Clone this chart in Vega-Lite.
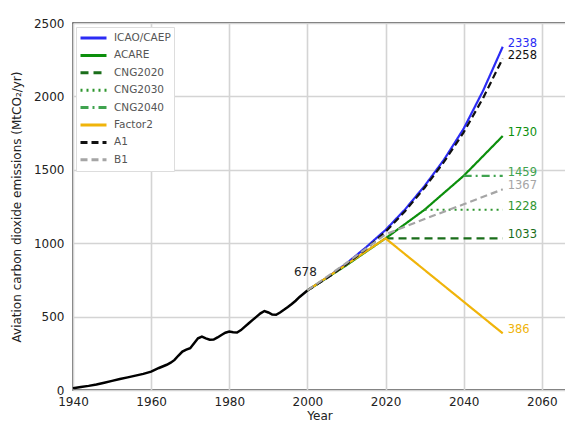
{
  "$schema": "https://vega.github.io/schema/vega-lite/v6.json",
  "autosize": {"type": "none"},
  "padding": {"left": 73, "top": 23, "right": 0, "bottom": 33},
  "width": 493,
  "height": 367,
  "background": "white",
  "config": {
    "font": "DejaVu Sans",
    "view": {"stroke": "#3a3a3a", "strokeWidth": 1.5},
    "axis": {
      "domain": false,
      "ticks": false,
      "labelFlush": false,
      "gridColor": "#d4d4d4",
      "gridWidth": 1.6,
      "labelFontSize": 12,
      "labelColor": "#222",
      "titleFontSize": 12,
      "titleFontWeight": "normal",
      "titleColor": "#222"
    }
  },
  "datasets": {
    "hist": [
      {"year": 1940, "value": 12}, {"year": 1942, "value": 20}, {"year": 1944, "value": 28},
      {"year": 1946, "value": 38}, {"year": 1948, "value": 50}, {"year": 1950, "value": 62},
      {"year": 1952, "value": 75}, {"year": 1954, "value": 86}, {"year": 1956, "value": 98},
      {"year": 1958, "value": 110}, {"year": 1960, "value": 125}, {"year": 1962, "value": 150},
      {"year": 1964, "value": 172}, {"year": 1965, "value": 186}, {"year": 1966, "value": 205},
      {"year": 1967, "value": 235}, {"year": 1968, "value": 262}, {"year": 1969, "value": 275},
      {"year": 1970, "value": 285}, {"year": 1971, "value": 318}, {"year": 1972, "value": 352},
      {"year": 1973, "value": 364}, {"year": 1974, "value": 352}, {"year": 1975, "value": 342},
      {"year": 1976, "value": 344}, {"year": 1977, "value": 358}, {"year": 1978, "value": 375},
      {"year": 1979, "value": 390}, {"year": 1980, "value": 398}, {"year": 1981, "value": 394},
      {"year": 1982, "value": 392}, {"year": 1983, "value": 408}, {"year": 1984, "value": 432},
      {"year": 1985, "value": 455}, {"year": 1986, "value": 478}, {"year": 1987, "value": 500},
      {"year": 1988, "value": 522}, {"year": 1989, "value": 538}, {"year": 1990, "value": 528},
      {"year": 1991, "value": 514}, {"year": 1992, "value": 512}, {"year": 1993, "value": 528},
      {"year": 1994, "value": 546}, {"year": 1995, "value": 565}, {"year": 1996, "value": 586},
      {"year": 1997, "value": 608}, {"year": 1998, "value": 634}, {"year": 1999, "value": 656},
      {"year": 2000, "value": 678}
    ],
    "proj": [
      {"series": "ICAO/CAEP", "year": 2000, "value": 678},
      {"series": "ICAO/CAEP", "year": 2005, "value": 765},
      {"series": "ICAO/CAEP", "year": 2010, "value": 862},
      {"series": "ICAO/CAEP", "year": 2015, "value": 972},
      {"series": "ICAO/CAEP", "year": 2020, "value": 1090},
      {"series": "ICAO/CAEP", "year": 2025, "value": 1230},
      {"series": "ICAO/CAEP", "year": 2030, "value": 1390},
      {"series": "ICAO/CAEP", "year": 2035, "value": 1570},
      {"series": "ICAO/CAEP", "year": 2040, "value": 1780},
      {"series": "ICAO/CAEP", "year": 2045, "value": 2040},
      {"series": "ICAO/CAEP", "year": 2050, "value": 2338},
      {"series": "ACARE", "year": 2000, "value": 678},
      {"series": "ACARE", "year": 2010, "value": 850},
      {"series": "ACARE", "year": 2020, "value": 1033},
      {"series": "ACARE", "year": 2030, "value": 1228},
      {"series": "ACARE", "year": 2040, "value": 1459},
      {"series": "ACARE", "year": 2050, "value": 1730},
      {"series": "CNG2020", "year": 2020, "value": 1033},
      {"series": "CNG2020", "year": 2050, "value": 1033},
      {"series": "CNG2030", "year": 2030, "value": 1228},
      {"series": "CNG2030", "year": 2050, "value": 1228},
      {"series": "CNG2040", "year": 2040, "value": 1459},
      {"series": "CNG2040", "year": 2050, "value": 1459},
      {"series": "Factor2", "year": 2000, "value": 678},
      {"series": "Factor2", "year": 2020, "value": 1033},
      {"series": "Factor2", "year": 2050, "value": 386},
      {"series": "A1", "year": 2000, "value": 678},
      {"series": "A1", "year": 2005, "value": 762},
      {"series": "A1", "year": 2010, "value": 855},
      {"series": "A1", "year": 2015, "value": 960},
      {"series": "A1", "year": 2020, "value": 1078},
      {"series": "A1", "year": 2025, "value": 1218},
      {"series": "A1", "year": 2030, "value": 1378},
      {"series": "A1", "year": 2035, "value": 1555},
      {"series": "A1", "year": 2040, "value": 1755},
      {"series": "A1", "year": 2045, "value": 1990},
      {"series": "A1", "year": 2050, "value": 2258},
      {"series": "B1", "year": 2000, "value": 678},
      {"series": "B1", "year": 2010, "value": 865},
      {"series": "B1", "year": 2020, "value": 1060},
      {"series": "B1", "year": 2030, "value": 1165},
      {"series": "B1", "year": 2040, "value": 1265},
      {"series": "B1", "year": 2050, "value": 1367}
    ],
    "labels": [
      {"series": "ICAO/CAEP", "year": 2050, "value": 2338, "label": "2338"},
      {"series": "A1", "year": 2050, "value": 2258, "label": "2258"},
      {"series": "ACARE", "year": 2050, "value": 1730, "label": "1730"},
      {"series": "CNG2040", "year": 2050, "value": 1459, "label": "1459"},
      {"series": "B1", "year": 2050, "value": 1367, "label": "1367"},
      {"series": "CNG2030", "year": 2050, "value": 1228, "label": "1228"},
      {"series": "CNG2020", "year": 2050, "value": 1033, "label": "1033"},
      {"series": "Factor2", "year": 2050, "value": 386, "label": "386"}
    ],
    "start": [
      {"year": 2000, "value": 678, "label": "678"}
    ]
  },
  "layer": [
    {
      "data": {"name": "hist"},
      "mark": {"type": "line", "color": "black", "strokeWidth": 2.5},
      "encoding": {
        "x": {
          "field": "year", "type": "quantitative",
          "scale": {"domain": [1940, 2066.2], "nice": false, "zero": false},
          "axis": {"values": [1940, 1960, 1980, 2000, 2020, 2040, 2060], "format": "d", "title": "Year", "labelPadding": 6, "titlePadding": 3}
        },
        "y": {
          "field": "value", "type": "quantitative",
          "scale": {"domain": [0, 2500], "nice": false},
          "axis": {"values": [0, 500, 1000, 1500, 2000, 2500], "format": "d", "title": "Aviation carbon dioxide emissions (MtCO₂/yr)", "labelPadding": 9, "titlePadding": 10}
        }
      }
    },
    {
      "data": {"name": "proj"},
      "mark": {"type": "line", "strokeWidth": 2.2},
      "encoding": {
        "x": {"field": "year", "type": "quantitative"},
        "y": {"field": "value", "type": "quantitative"},
        "color": {
          "field": "series", "type": "nominal",
          "scale": {
            "domain": ["ICAO/CAEP", "ACARE", "CNG2020", "CNG2030", "CNG2040", "Factor2", "A1", "B1"],
            "range": ["#2b2bf5", "#0c8f0c", "#1a6e1a", "#2f962f", "#3fa34f", "#f0b40a", "#111111", "#a5a5a5"]
          },
          "legend": {
            "title": null,
            "orient": "none",
            "legendX": 3,
            "legendY": 4,
            "symbolType": "stroke",
            "symbolSize": 676,
            "symbolStrokeWidth": 3,
            "labelFontSize": 10.5,
            "labelColor": "#555",
            "clipHeight": 16,
            "rowPadding": 1.4,
            "padding": 3,
            "strokeColor": "#dddddd",
            "fillColor": "white",
            "cornerRadius": 0,
            "labelOffset": 6
          }
        },
        "strokeDash": {
          "field": "series", "type": "nominal",
          "scale": {
            "domain": ["ICAO/CAEP", "ACARE", "CNG2020", "CNG2030", "CNG2040", "Factor2", "A1", "B1"],
            "range": [[1, 0], [1, 0], [8, 5], [2, 4], [8, 4, 2, 4], [1, 0], [7, 4], [7, 4]]
          },
          "legend": null
        }
      }
    },
    {
      "data": {"name": "labels"},
      "mark": {"type": "text", "align": "left", "baseline": "alphabetic", "dx": 5, "fontSize": 11.5},
      "encoding": {
        "x": {"field": "year", "type": "quantitative"},
        "y": {"field": "value", "type": "quantitative"},
        "text": {"field": "label"},
        "color": {
          "field": "series", "type": "nominal",
          "scale": {
            "domain": ["ICAO/CAEP", "ACARE", "CNG2020", "CNG2030", "CNG2040", "Factor2", "A1", "B1"],
            "range": ["#2b2bf5", "#0c8f0c", "#1a6e1a", "#2f962f", "#3fa34f", "#f0b40a", "#111111", "#a5a5a5"]
          },
          "legend": null
        }
      }
    },
    {
      "data": {"name": "start"},
      "mark": {"type": "text", "align": "center", "baseline": "alphabetic", "dx": -2, "dy": -14, "fontSize": 12, "color": "#222"},
      "encoding": {
        "x": {"field": "year", "type": "quantitative"},
        "y": {"field": "value", "type": "quantitative"},
        "text": {"field": "label"}
      }
    }
  ]
}
